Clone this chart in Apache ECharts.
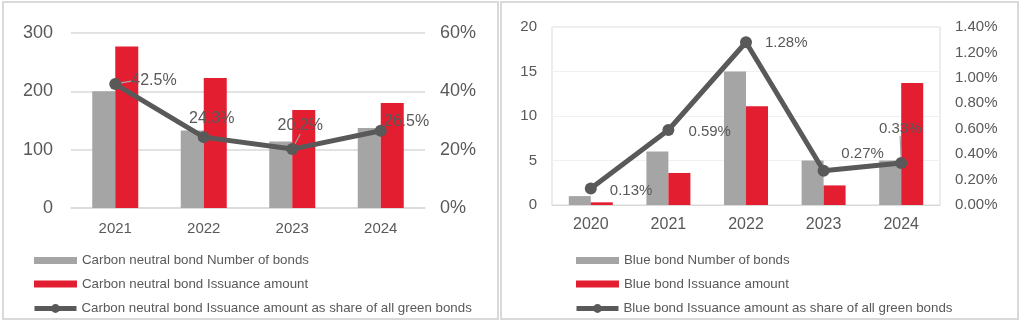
<!DOCTYPE html>
<html><head><meta charset="utf-8">
<script src="https://cdn.jsdelivr.net/npm/echarts@6/dist/echarts.min.js"></script>
<style>html,body{margin:0;padding:0;background:#fff}#c{width:1024px;height:321px}</style>
</head><body><div id="c"></div>
<script>
// Left chart: carbon neutral bonds
const cnYears = ['2021','2022','2023','2024'];
const cnNumber = [200, 133, 114, 137];
const cnAmount = [277, 223, 168, 180];
const cnShare = [42.5, 24.3, 20.2, 26.5];
// Right chart: blue bonds
const bbYears = ['2020','2021','2022','2023','2024'];
const bbNumber = [1, 6, 15, 5, 5];
const bbAmount = [0.3, 3.6, 11.1, 2.2, 13.7];
const bbShare = [0.13, 0.59, 1.28, 0.27, 0.33];

const FONT = 'Liberation Sans';
const TXT = '#595959';
const GRAY = '#a5a5a5';
const RED = '#e41e31';
const LINE = '#595959';

// label placement: position/distance, then shift (dx, dy); line = draw a leader line
const cnLabelCfg = [
  {position: 'right', distance: 0, move: [10, -3], line: true},
  {position: 'top', distance: 5, move: [8, 0]},
  {position: 'top', distance: 0, move: [8, -9], line: true},
  {position: 'right', distance: 0, move: [-3, -9]}
];
const bbLabelCfg = [
  {position: 'right', distance: 13, move: [0, 2]},
  {position: 'right', distance: 14, move: [0, 2]},
  {position: 'right', distance: 13, move: [0, 1]},
  {position: 'top', distance: 3, move: [39, 0]},
  {position: 'top', distance: 0, move: [-1, -21], line: true}
];

function lineData(vals, cfg, fmt) {
  return vals.map((v, i) => ({
    value: v,
    label: {show: true, position: cfg[i].position, distance: cfg[i].distance, formatter: () => fmt(v)},
    labelLine: {show: !!cfg[i].line, lineStyle: {color: '#a6a6a6', width: 1.2}}
  }));
}
function layoutFn(cfg) {
  return function (params) {
    const c = cfg[params.dataIndex];
    return c ? {dx: c.move[0], dy: c.move[1]} : {};
  };
}

const chart = echarts.init(document.getElementById('c'), null, {renderer: 'canvas'});
const axisLabelBase = {color: TXT, fontFamily: FONT};
const legendText = {color: TXT, fontSize: 13.3, fontFamily: FONT};

chart.setOption({
  animation: false,
  textStyle: {fontFamily: FONT, color: TXT},
  graphic: [
    {type: 'rect', shape: {x: 3, y: 2, width: 495, height: 317}, style: {fill: 'none', stroke: '#d9d9d9', lineWidth: 2}},
    {type: 'rect', shape: {x: 501, y: 2, width: 517, height: 317}, style: {fill: 'none', stroke: '#d9d9d9', lineWidth: 2}}
  ],
  grid: [
    {left: 71, top: 33, width: 354, height: 175},
    {left: 552, top: 27, width: 388, height: 178, show: true, borderColor: '#d9d9d9', borderWidth: 1}
  ],
  legend: [
    {orient: 'vertical', left: 34, top: 254, padding: 0, itemWidth: 43, itemHeight: 7, itemGap: 10.5,
     textStyle: legendText,
     data: [{name: 'Carbon neutral bond Number of bonds', icon: 'rect'},
            {name: 'Carbon neutral bond Issuance amount', icon: 'rect'}]},
    {orient: 'vertical', left: 32, top: 302, padding: 0, itemWidth: 42, itemHeight: 11,
     textStyle: legendText,
     data: [{name: 'Carbon neutral bond Issuance amount as share of all green bonds', lineStyle: {width: 5}}]},
    {orient: 'vertical', left: 576, top: 254, padding: 0, itemWidth: 43, itemHeight: 7, itemGap: 10.5,
     textStyle: legendText,
     data: [{name: 'Blue bond Number of bonds', icon: 'rect'},
            {name: 'Blue bond Issuance amount', icon: 'rect'}]},
    {orient: 'vertical', left: 574, top: 302, padding: 0, itemWidth: 42, itemHeight: 11,
     textStyle: legendText,
     data: [{name: 'Blue bond Issuance amount as share of all green bonds', lineStyle: {width: 5}}]}
  ],
  xAxis: [
    {type: 'category', gridIndex: 0, data: cnYears,
     axisLine: {lineStyle: {color: '#d9d9d9', width: 1.5}}, axisTick: {show: false},
     axisLabel: Object.assign({fontSize: 15, margin: 13}, axisLabelBase)},
    {type: 'category', gridIndex: 1, data: bbYears,
     axisLine: {lineStyle: {color: '#d9d9d9', width: 1}}, axisTick: {show: false},
     axisLabel: Object.assign({fontSize: 16, margin: 12}, axisLabelBase)}
  ],
  yAxis: [
    {type: 'value', gridIndex: 0, min: 0, max: 300, interval: 100,
     axisLine: {show: false}, axisTick: {show: false},
     splitLine: {lineStyle: {color: '#d9d9d9', width: 1.5}},
     axisLabel: Object.assign({fontSize: 18, margin: 18}, axisLabelBase)},
    {type: 'value', gridIndex: 0, min: 0, max: 60, interval: 20, position: 'right',
     axisLine: {show: false}, axisTick: {show: false}, splitLine: {show: false},
     axisLabel: Object.assign({fontSize: 18, margin: 15, formatter: v => v + '%'}, axisLabelBase)},
    {type: 'value', gridIndex: 1, min: 0, max: 20, interval: 5,
     axisLine: {show: false}, axisTick: {show: false},
     splitLine: {lineStyle: {color: '#f0f0f0', width: 1}},
     axisLabel: Object.assign({fontSize: 15, margin: 15}, axisLabelBase)},
    {type: 'value', gridIndex: 1, min: 0, max: 1.4, interval: 0.2, position: 'right',
     axisLine: {show: false}, axisTick: {show: false}, splitLine: {show: false},
     axisLabel: Object.assign({fontSize: 15, margin: 15, formatter: v => v.toFixed(2) + '%'}, axisLabelBase)}
  ],
  series: [
    {name: 'Carbon neutral bond Number of bonds', type: 'bar', xAxisIndex: 0, yAxisIndex: 0,
     data: cnNumber, barWidth: 23, barGap: '0%', itemStyle: {color: GRAY}},
    {name: 'Carbon neutral bond Issuance amount', type: 'bar', xAxisIndex: 0, yAxisIndex: 0,
     data: cnAmount, barWidth: 23, barGap: '0%', itemStyle: {color: RED}},
    {name: 'Carbon neutral bond Issuance amount as share of all green bonds', type: 'line',
     xAxisIndex: 0, yAxisIndex: 1, data: lineData(cnShare, cnLabelCfg, v => v.toFixed(1) + '%'),
     labelLayout: layoutFn(cnLabelCfg),
     symbol: 'circle', symbolSize: 12, lineStyle: {color: LINE, width: 5}, itemStyle: {color: LINE},
     label: {color: TXT, fontSize: 16, fontFamily: FONT}, z: 5},
    {name: 'Blue bond Number of bonds', type: 'bar', xAxisIndex: 1, yAxisIndex: 2,
     data: bbNumber, barWidth: 22, barGap: '0%', itemStyle: {color: GRAY}},
    {name: 'Blue bond Issuance amount', type: 'bar', xAxisIndex: 1, yAxisIndex: 2,
     data: bbAmount, barWidth: 22, barGap: '0%', itemStyle: {color: RED}},
    {name: 'Blue bond Issuance amount as share of all green bonds', type: 'line',
     xAxisIndex: 1, yAxisIndex: 3, data: lineData(bbShare, bbLabelCfg, v => v.toFixed(2) + '%'),
     labelLayout: layoutFn(bbLabelCfg),
     symbol: 'circle', symbolSize: 12, lineStyle: {color: LINE, width: 5}, itemStyle: {color: LINE},
     label: {color: TXT, fontSize: 15, fontFamily: FONT}, z: 5}
  ]
});
</script></body></html>
